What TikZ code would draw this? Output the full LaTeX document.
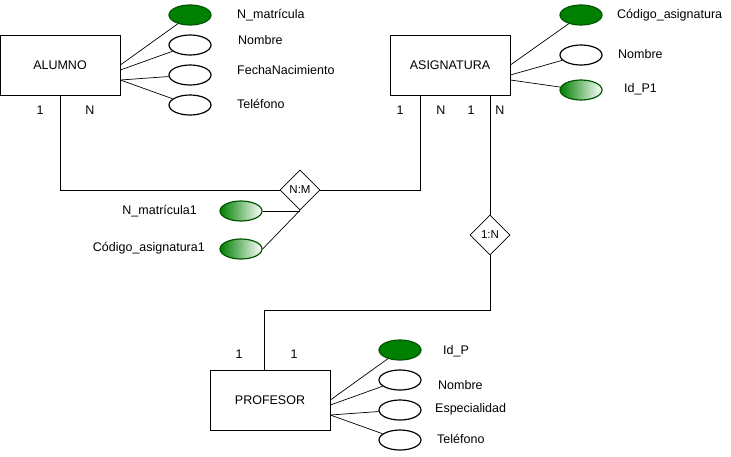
\documentclass[tikz,border=0pt]{standalone}
\usepackage{fontspec}
\setmainfont{Liberation Sans}
\usetikzlibrary{shapes.geometric,calc}
\definecolor{pkgreen}{RGB}{0,128,0}
\definecolor{pkedge}{RGB}{0,85,0}
\begin{document}
\begin{tikzpicture}[
  x=1pt, y=-1pt,
  font=\fontsize{12.5}{14}\selectfont,
  ent/.style={draw, line width=0.7pt, minimum width=120pt, minimum height=60pt, inner sep=0pt},
  attr/.style={ellipse, draw, line width=1.2pt, minimum width=42pt, minimum height=20pt, inner sep=0pt},
  key/.style={attr, draw=pkedge, fill=pkgreen},
  fkey/.style={attr, draw=pkedge, left color=pkgreen, right color=white},
  relbox/.style={diamond, draw, line width=0.7pt, minimum width=40pt, minimum height=40pt, inner sep=0pt, font=\fontsize{11.5}{13}\selectfont},
  lnk/.style={line width=0.7pt},
  lbl/.style={anchor=west, inner sep=0pt},
  card/.style={inner sep=0pt}
]
\useasboundingbox (0,0) rectangle (731,456);

% entities
\node[ent] (alu) at (60,65) {ALUMNO};
\node[ent] (asig) at (450,65) {ASIGNATURA};
\node[ent] (prof) at (270,400) {PROFESOR};

% relationships
\node[relbox] (nm) at (300,190) {N:M};
\node[relbox] (oneN) at (490,235) {1:N};

% ALUMNO attributes
\node[key] (aluMat) at (190,15) {};
\node[attr] (aluNom) at (190,45) {};
\node[attr] (aluFec) at (190,75) {};
\node[attr] (aluTel) at (190,105) {};
\node[lbl] (aluMatT) at (237,15) {N\_matrícula};
\node[lbl] (aluNomT) at (238,40) {Nombre};
\node[lbl] (aluFecT) at (237,70) {FechaNacimiento};
\node[lbl] (aluTelT) at (237,104) {Teléfono};

\draw[lnk] (alu.east) -- (aluMat);
\draw[lnk] ($(alu.east)+(0,5)$) -- (aluNom);
\draw[lnk] ($(alu.east)+(0,15)$) -- (aluFec);
\draw[lnk] ($(alu.east)+(0,15)$) -- (aluTel);

% ASIGNATURA attributes
\node[key] (asiCod) at (581,15) {};
\node[attr] (asiNom) at (581,55) {};
\node[fkey] (asiIdp) at (581,90) {};
\node[lbl] (asiCodT) at (617,15) {Código\_asignatura};
\node[lbl] (asiNomT) at (618,54) {Nombre};
\node[lbl] (asiIdpT) at (624,89) {Id\_P1};

\draw[lnk] (asig.east) -- (asiCod);
\draw[lnk] ($(asig.east)+(0,10)$) -- (asiNom);
\draw[lnk] ($(asig.east)+(0,15)$) -- (asiIdp);

% PROFESOR attributes
\node[key] (proId) at (400,350) {};
\node[attr] (proNom) at (400,380) {};
\node[attr] (proEsp) at (400,410) {};
\node[attr] (proTel) at (400,440) {};
\node[lbl] (proIdT) at (443,351) {Id\_P};
\node[lbl] (proNomT) at (438,385) {Nombre};
\node[lbl] (proEspT) at (435,409) {Especialidad};
\node[lbl] (proTelT) at (437,439) {Teléfono};

\draw[lnk] (prof.east) -- (proId);
\draw[lnk] ($(prof.east)+(0,5)$) -- (proNom);
\draw[lnk] ($(prof.east)+(0,15)$) -- (proEsp);
\draw[lnk] ($(prof.east)+(0,15)$) -- (proTel);

% N:M attributes
\node[fkey] (nmMat) at (241,211) {};
\node[fkey] (nmCod) at (241,249) {};
\node[lbl, anchor=east] (nmMatT) at (197,211) {N\_matrícula1};
\node[lbl, anchor=east] (nmCodT) at (205,248) {Código\_asignatura1};

\draw[lnk] (nmMat.east) -- (nmMat.east -| nm.south);
\draw[lnk] (nmCod.east) -- (nm.south);

% links
\draw[lnk] (alu.south) |- (nm.west);
\draw[lnk] (nm.east) -| ($(asig.south)+(-30,0)$);
\draw[lnk] ($(asig.south)+(40,0)$) -- (oneN.north);
\draw[lnk] (oneN.south) -- ++(0,55) -| ($(prof.north)+(-6,0)$);

% cardinalities
\node[card] (c1) at (40,110) {1};
\node[card] (c2) at (90,110) {N};
\node[card] (c3) at (400,110) {1};
\node[card] (c4) at (441,110) {N};
\node[card] (c5) at (471,110) {1};
\node[card] (c6) at (500,110) {N};
\node[card] (c7) at (239,354) {1};
\node[card] (c8) at (294,354) {1};
\end{tikzpicture}
\end{document}
